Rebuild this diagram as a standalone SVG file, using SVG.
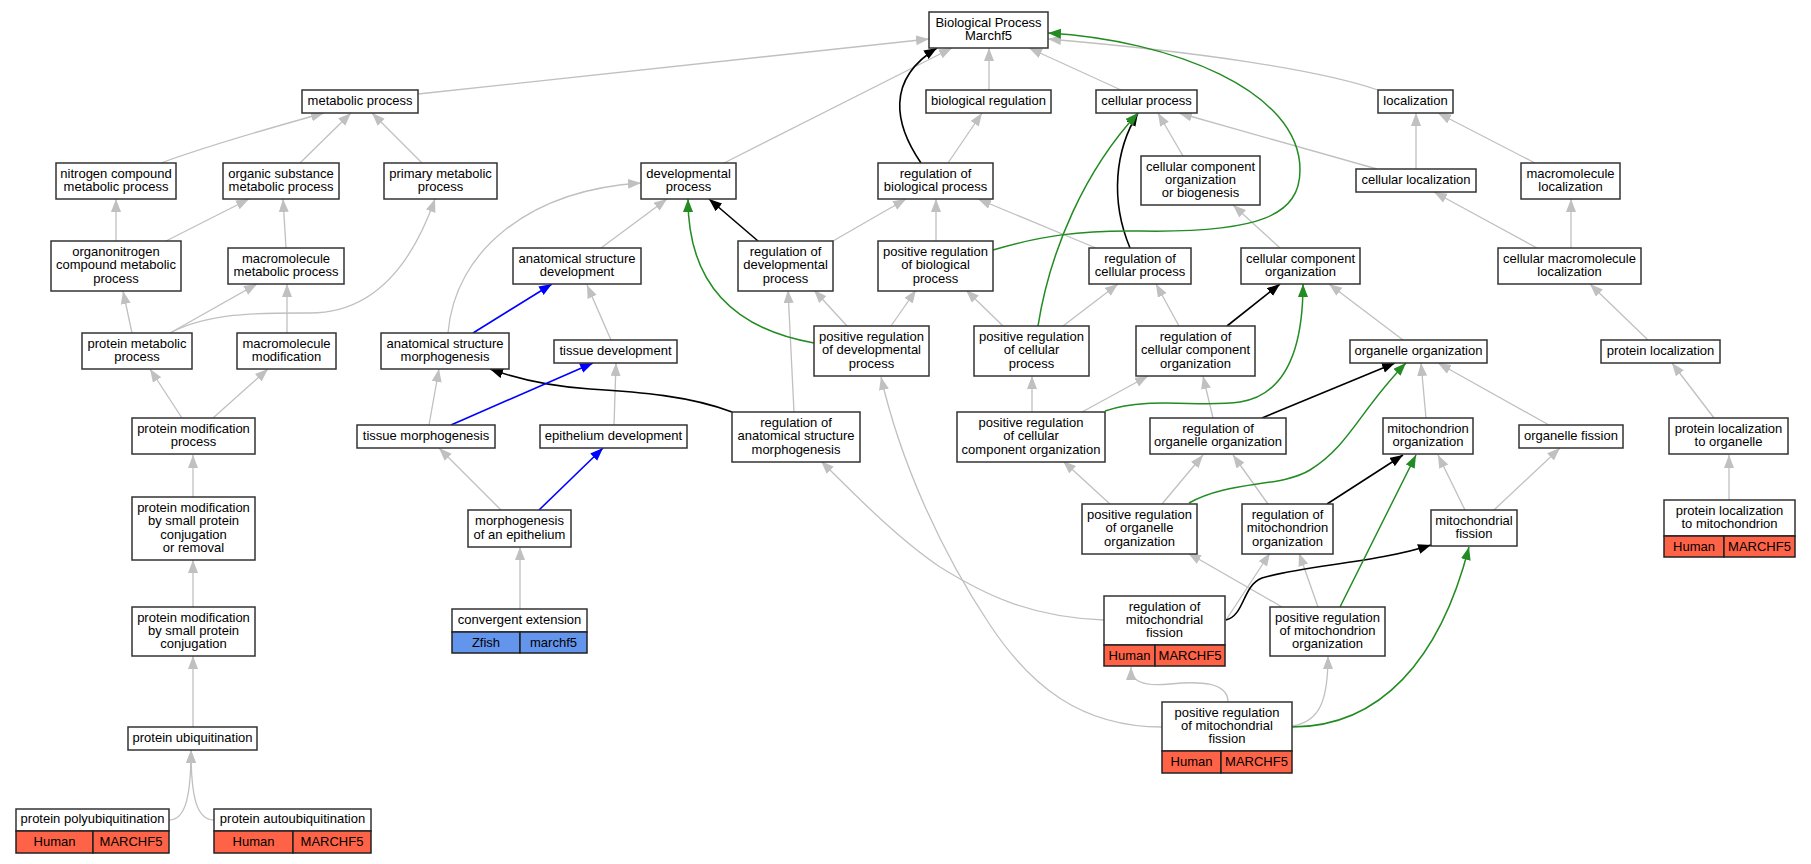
<svg xmlns="http://www.w3.org/2000/svg" width="1811" height="864" viewBox="0 0 1811 864">
<style>
.b{fill:#fff;stroke:#333;stroke-width:1.5}
.h{fill:#ff6347;stroke:#222;stroke-width:1.5}
.z{fill:#6495ed;stroke:#222;stroke-width:1.5}
text{font-family:"Liberation Sans",Arial,Helvetica,sans-serif;font-size:13px;text-anchor:middle;fill:#000}
.eg{fill:none;stroke:#c0c0c0;stroke-width:1.3;marker-end:url(#ag)}
.ek{fill:none;stroke:#000;stroke-width:1.6;marker-end:url(#ak)}
.eu{fill:none;stroke:#0000ff;stroke-width:1.6;marker-end:url(#au)}
.en{fill:none;stroke:#228b22;stroke-width:1.5;marker-end:url(#an)}
</style>
<defs>
<marker id="ag" markerUnits="userSpaceOnUse" markerWidth="14" markerHeight="11" refX="13" refY="5" orient="auto"><path d="M0,0 L13,5 L0,10 z" fill="#c0c0c0"/></marker>
<marker id="ak" markerUnits="userSpaceOnUse" markerWidth="14" markerHeight="11" refX="13" refY="5" orient="auto"><path d="M0,0 L13,5 L0,10 z" fill="#000"/></marker>
<marker id="au" markerUnits="userSpaceOnUse" markerWidth="14" markerHeight="11" refX="13" refY="5" orient="auto"><path d="M0,0 L13,5 L0,10 z" fill="#0000ff"/></marker>
<marker id="an" markerUnits="userSpaceOnUse" markerWidth="14" markerHeight="11" refX="13" refY="5" orient="auto"><path d="M0,0 L13,5 L0,10 z" fill="#228b22"/></marker>
</defs>
<rect width="1811" height="864" fill="#fff"/>
<g id="edges">
<path class="eg" d="M418,94 L929,39"/>
<path class="eg" d="M161,163 C210,145 270,128 324,113"/>
<path class="eg" d="M300,163 L351,113"/>
<path class="eg" d="M422,163 L372,113"/>
<path class="eg" d="M116,241 L116,199"/>
<path class="eg" d="M166,241 L249,199"/>
<path class="eg" d="M286,248 L283,199"/>
<path class="eg" d="M170,333 C210,312 260,313 310,313 C370,313 410,270 435,199"/>
<path class="eg" d="M132,333 L123,291"/>
<path class="eg" d="M170,333 L257,284"/>
<path class="eg" d="M287,333 L287,284"/>
<path class="eg" d="M182,418 L150,369"/>
<path class="eg" d="M213,418 L268,369"/>
<path class="eg" d="M193,497 L193,455"/>
<path class="eg" d="M193,607 L193,560"/>
<path class="eg" d="M193,727 L193,656"/>
<path class="eg" d="M169,820 C186,820 191,795 191,750"/>
<path class="eg" d="M214,820 C196,820 191,795 191,750"/>
<path class="eg" d="M448,333 C455,250 530,190 641,183"/>
<path class="eg" d="M611,340 L587,285"/>
<path class="eg" d="M429,425 L439,369"/>
<path class="eg" d="M614,425 L616,363"/>
<path class="eg" d="M501,510 L439,448"/>
<path class="eg" d="M520,609 L520,547"/>
<path class="eg" d="M724,163 L952,48"/>
<path class="eg" d="M989,90 L989,48"/>
<path class="eg" d="M1121,90 L1029,48"/>
<path class="eg" d="M1378,90 C1320,70 1200,52 1048,39"/>
<path class="eg" d="M1377,169 L1179,113"/>
<path class="eg" d="M1183,156 L1158,113"/>
<path class="eg" d="M948,163 L982,113"/>
<path class="eg" d="M833,241 L906,199"/>
<path class="eg" d="M936,241 L936,199"/>
<path class="eg" d="M1096,248 L978,199"/>
<path class="eg" d="M601,248 L667,199"/>
<path class="eg" d="M847,326 L814,290"/>
<path class="eg" d="M891,326 L916,290"/>
<path class="eg" d="M794,412 L788,290"/>
<path class="eg" d="M1003,326 L966,290"/>
<path class="eg" d="M1063,326 L1118,284"/>
<path class="eg" d="M1179,326 L1156,284"/>
<path class="eg" d="M1032,412 L1032,376"/>
<path class="eg" d="M1082,412 L1148,376"/>
<path class="eg" d="M1213,418 L1203,376"/>
<path class="eg" d="M1110,504 L1063,461"/>
<path class="eg" d="M1162,504 L1203,455"/>
<path class="eg" d="M1403,340 L1329,284"/>
<path class="eg" d="M1280,248 L1233,205"/>
<path class="eg" d="M1426,418 L1421,363"/>
<path class="eg" d="M1549,425 L1438,363"/>
<path class="eg" d="M1465,510 L1438,455"/>
<path class="eg" d="M1494,510 L1560,448"/>
<path class="eg" d="M1268,504 L1233,455"/>
<path class="eg" d="M1648,340 L1590,284"/>
<path class="eg" d="M1571,248 L1571,199"/>
<path class="eg" d="M1537,248 L1434,192"/>
<path class="eg" d="M1535,163 L1438,113"/>
<path class="eg" d="M1416,169 L1416,113"/>
<path class="eg" d="M1714,418 L1672,363"/>
<path class="eg" d="M1729,500 L1729,455"/>
<path class="eg" d="M1226,620 L1270,553"/>
<path class="eg" d="M1282,607 L1188,553"/>
<path class="eg" d="M1318,607 L1299,553"/>
<path class="eg" d="M1104,620 C1030,617 985,595 940,567 C900,540 860,500 821,461"/>
<path class="eg" d="M1228,702 C1228,682 1200,681 1170,684 C1140,687 1131,680 1131,667"/>
<path class="eg" d="M1292,726 C1320,722 1328,700 1328,656"/>
<path class="eg" d="M1162,727 C1080,727 1030,685 990,625 C940,550 900,460 881,377"/>
<path class="ek" d="M921,163 C895,125 885,80 937,48"/>
<path class="ek" d="M758,241 L709,199"/>
<path class="ek" d="M1130,248 C1110,200 1115,150 1138,113"/>
<path class="ek" d="M732,412 C690,396 640,392 590,389 C545,386 515,378 490,369"/>
<path class="ek" d="M1227,326 L1280,284"/>
<path class="ek" d="M1262,418 L1395,363"/>
<path class="ek" d="M1327,504 L1403,455"/>
<path class="ek" d="M1226,620 C1245,615 1242,586 1262,578 C1300,566 1380,562 1431,545"/>
<path class="eu" d="M473,333 L552,284"/>
<path class="eu" d="M451,425 L593,363"/>
<path class="eu" d="M539,510 L603,448"/>
<path class="en" d="M993,250 C1040,236 1080,230 1140,231 C1260,233 1300,215 1300,170 C1300,90 1170,40 1048,33"/>
<path class="en" d="M1038,326 C1050,250 1085,170 1138,113"/>
<path class="en" d="M814,343 C740,330 688,290 688,199"/>
<path class="en" d="M1105,411 C1150,396 1200,408 1240,402 C1290,394 1303,340 1303,284"/>
<path class="en" d="M1189,503 C1230,480 1280,488 1310,470 C1350,445 1360,410 1406,363"/>
<path class="en" d="M1340,607 L1416,455"/>
<path class="en" d="M1292,727 C1380,727 1440,660 1469,547"/>
</g>
<g id="nodes">
<g id="n-bp"><rect class="b" x="929" y="12" width="119" height="36"/><text x="988.5" y="26.7">Biological Process</text><text x="988.5" y="40">Marchf5</text></g>
<g id="n-metabolic"><rect class="b" x="302" y="90" width="116" height="23"/><text x="360" y="104.8">metabolic process</text></g>
<g id="n-bioreg"><rect class="b" x="926" y="90" width="125" height="23"/><text x="988.5" y="104.8">biological regulation</text></g>
<g id="n-cellproc"><rect class="b" x="1096" y="90" width="101" height="23"/><text x="1146.5" y="104.8">cellular process</text></g>
<g id="n-localization"><rect class="b" x="1378" y="90" width="75" height="23"/><text x="1415.5" y="104.8">localization</text></g>
<g id="n-nitrogen"><rect class="b" x="56" y="163" width="120" height="36"/><text x="116" y="177.7">nitrogen compound</text><text x="116" y="191">metabolic process</text></g>
<g id="n-organic"><rect class="b" x="223" y="163" width="116" height="36"/><text x="281" y="177.7">organic substance</text><text x="281" y="191">metabolic process</text></g>
<g id="n-primary"><rect class="b" x="384" y="163" width="113" height="36"/><text x="440.5" y="177.7">primary metabolic</text><text x="440.5" y="191">process</text></g>
<g id="n-devproc"><rect class="b" x="641" y="163" width="95" height="36"/><text x="688.5" y="177.7">developmental</text><text x="688.5" y="191">process</text></g>
<g id="n-regbio"><rect class="b" x="878" y="163" width="115" height="36"/><text x="935.5" y="177.7">regulation of</text><text x="935.5" y="191">biological process</text></g>
<g id="n-ccob"><rect class="b" x="1141" y="156" width="119" height="49"/><text x="1200.5" y="170.5">cellular component</text><text x="1200.5" y="183.8">organization</text><text x="1200.5" y="197.1">or biogenesis</text></g>
<g id="n-cellloc"><rect class="b" x="1356" y="169" width="120" height="23"/><text x="1416" y="183.8">cellular localization</text></g>
<g id="n-macroloc"><rect class="b" x="1521" y="163" width="99" height="36"/><text x="1570.5" y="177.7">macromolecule</text><text x="1570.5" y="191">localization</text></g>
<g id="n-organonitrogen"><rect class="b" x="51" y="241" width="130" height="50"/><text x="116" y="256">organonitrogen</text><text x="116" y="269.3">compound metabolic</text><text x="116" y="282.6">process</text></g>
<g id="n-macrometab"><rect class="b" x="228" y="248" width="116" height="36"/><text x="286" y="262.7">macromolecule</text><text x="286" y="276">metabolic process</text></g>
<g id="n-asdev"><rect class="b" x="513" y="248" width="128" height="36"/><text x="577" y="262.7">anatomical structure</text><text x="577" y="276">development</text></g>
<g id="n-regdev"><rect class="b" x="738" y="241" width="95" height="50"/><text x="785.5" y="256">regulation of</text><text x="785.5" y="269.3">developmental</text><text x="785.5" y="282.6">process</text></g>
<g id="n-posregbio"><rect class="b" x="878" y="241" width="115" height="50"/><text x="935.5" y="256">positive regulation</text><text x="935.5" y="269.3">of biological</text><text x="935.5" y="282.6">process</text></g>
<g id="n-regcell"><rect class="b" x="1089" y="248" width="102" height="36"/><text x="1140" y="262.7">regulation of</text><text x="1140" y="276">cellular process</text></g>
<g id="n-cco"><rect class="b" x="1241" y="248" width="119" height="36"/><text x="1300.5" y="262.7">cellular component</text><text x="1300.5" y="276">organization</text></g>
<g id="n-cellmacroloc"><rect class="b" x="1498" y="248" width="143" height="36"/><text x="1569.5" y="262.7">cellular macromolecule</text><text x="1569.5" y="276">localization</text></g>
<g id="n-protmetab"><rect class="b" x="82" y="333" width="110" height="36"/><text x="137" y="347.7">protein metabolic</text><text x="137" y="361">process</text></g>
<g id="n-macromod"><rect class="b" x="237" y="333" width="99" height="36"/><text x="286.5" y="347.7">macromolecule</text><text x="286.5" y="361">modification</text></g>
<g id="n-asmorph"><rect class="b" x="381" y="333" width="128" height="36"/><text x="445" y="347.7">anatomical structure</text><text x="445" y="361">morphogenesis</text></g>
<g id="n-tissuedev"><rect class="b" x="554" y="340" width="123" height="23"/><text x="615.5" y="354.8">tissue development</text></g>
<g id="n-posregdev"><rect class="b" x="814" y="326" width="115" height="50"/><text x="871.5" y="341">positive regulation</text><text x="871.5" y="354.3">of developmental</text><text x="871.5" y="367.6">process</text></g>
<g id="n-posregcell"><rect class="b" x="974" y="326" width="115" height="50"/><text x="1031.5" y="341">positive regulation</text><text x="1031.5" y="354.3">of cellular</text><text x="1031.5" y="367.6">process</text></g>
<g id="n-regcco"><rect class="b" x="1136" y="326" width="119" height="50"/><text x="1195.5" y="341">regulation of</text><text x="1195.5" y="354.3">cellular component</text><text x="1195.5" y="367.6">organization</text></g>
<g id="n-orgorg"><rect class="b" x="1350" y="340" width="137" height="23"/><text x="1418.5" y="354.8">organelle organization</text></g>
<g id="n-protloc"><rect class="b" x="1601" y="340" width="119" height="23"/><text x="1660.5" y="354.8">protein localization</text></g>
<g id="n-protmod"><rect class="b" x="132" y="418" width="123" height="36"/><text x="193.5" y="432.7">protein modification</text><text x="193.5" y="446">process</text></g>
<g id="n-tissuemorph"><rect class="b" x="357" y="425" width="138" height="23"/><text x="426" y="439.8">tissue morphogenesis</text></g>
<g id="n-epidev"><rect class="b" x="540" y="425" width="147" height="23"/><text x="613.5" y="439.8">epithelium development</text></g>
<g id="n-regasmorph"><rect class="b" x="732" y="412" width="128" height="50"/><text x="796" y="427">regulation of</text><text x="796" y="440.3">anatomical structure</text><text x="796" y="453.6">morphogenesis</text></g>
<g id="n-posregcco"><rect class="b" x="957" y="412" width="148" height="50"/><text x="1031" y="427">positive regulation</text><text x="1031" y="440.3">of cellular</text><text x="1031" y="453.6">component organization</text></g>
<g id="n-regorgorg"><rect class="b" x="1150" y="418" width="136" height="36"/><text x="1218" y="432.7">regulation of</text><text x="1218" y="446">organelle organization</text></g>
<g id="n-mitoorg"><rect class="b" x="1383" y="418" width="90" height="36"/><text x="1428" y="432.7">mitochondrion</text><text x="1428" y="446">organization</text></g>
<g id="n-orgfission"><rect class="b" x="1519" y="425" width="104" height="23"/><text x="1571" y="439.8">organelle fission</text></g>
<g id="n-protlocorg"><rect class="b" x="1669" y="418" width="119" height="36"/><text x="1728.5" y="432.7">protein localization</text><text x="1728.5" y="446">to organelle</text></g>
<g id="n-protmodsmallrem"><rect class="b" x="132" y="497" width="123" height="63"/><text x="193.5" y="511.9">protein modification</text><text x="193.5" y="525.2">by small protein</text><text x="193.5" y="538.5">conjugation</text><text x="193.5" y="551.8">or removal</text></g>
<g id="n-morphepi"><rect class="b" x="468" y="510" width="103" height="37"/><text x="519.5" y="525.2">morphogenesis</text><text x="519.5" y="538.5">of an epithelium</text></g>
<g id="n-posregorgorg"><rect class="b" x="1082" y="504" width="115" height="50"/><text x="1139.5" y="519">positive regulation</text><text x="1139.5" y="532.3">of organelle</text><text x="1139.5" y="545.6">organization</text></g>
<g id="n-regmitoorg"><rect class="b" x="1242" y="504" width="91" height="50"/><text x="1287.5" y="519">regulation of</text><text x="1287.5" y="532.3">mitochondrion</text><text x="1287.5" y="545.6">organization</text></g>
<g id="n-mitofission"><rect class="b" x="1431" y="510" width="86" height="36"/><text x="1474" y="524.7">mitochondrial</text><text x="1474" y="538">fission</text></g>
<g id="n-protlocmito"><rect class="b" x="1664" y="500" width="131" height="36"/><text x="1729.5" y="514.7">protein localization</text><text x="1729.5" y="528">to mitochondrion</text><rect class="h" x="1664" y="536" width="60" height="21"/><rect class="h" x="1724" y="536" width="71" height="21"/><text x="1694" y="550.5">Human</text><text x="1759.5" y="550.5">MARCHF5</text></g>
<g id="n-protmodsmall"><rect class="b" x="132" y="607" width="123" height="49"/><text x="193.5" y="621.5">protein modification</text><text x="193.5" y="634.8">by small protein</text><text x="193.5" y="648.1">conjugation</text></g>
<g id="n-convext"><rect class="b" x="452" y="609" width="135" height="23"/><text x="519.5" y="623.8">convergent extension</text><rect class="z" x="452" y="632" width="68" height="21"/><rect class="z" x="520" y="632" width="67" height="21"/><text x="486" y="646.5">Zfish</text><text x="553.5" y="646.5">marchf5</text></g>
<g id="n-regmitofission"><rect class="b" x="1104" y="596" width="121" height="49"/><text x="1164.5" y="610.5">regulation of</text><text x="1164.5" y="623.8">mitochondrial</text><text x="1164.5" y="637.1">fission</text><rect class="h" x="1104" y="645" width="51" height="21"/><rect class="h" x="1155" y="645" width="70" height="21"/><text x="1129.5" y="659.5">Human</text><text x="1190" y="659.5">MARCHF5</text></g>
<g id="n-posregmitoorg"><rect class="b" x="1270" y="607" width="115" height="49"/><text x="1327.5" y="621.5">positive regulation</text><text x="1327.5" y="634.8">of mitochondrion</text><text x="1327.5" y="648.1">organization</text></g>
<g id="n-protubiq"><rect class="b" x="128" y="727" width="129" height="23"/><text x="192.5" y="741.8">protein ubiquitination</text></g>
<g id="n-posregmitofission"><rect class="b" x="1162" y="702" width="130" height="49"/><text x="1227" y="716.5">positive regulation</text><text x="1227" y="729.8">of mitochondrial</text><text x="1227" y="743.1">fission</text><rect class="h" x="1162" y="751" width="59" height="22"/><rect class="h" x="1221" y="751" width="71" height="22"/><text x="1191.5" y="766">Human</text><text x="1256.5" y="766">MARCHF5</text></g>
<g id="n-polyubiq"><rect class="b" x="16" y="809" width="153" height="22"/><text x="92.5" y="823.3">protein polyubiquitination</text><rect class="h" x="16" y="831" width="77" height="22"/><rect class="h" x="93" y="831" width="76" height="22"/><text x="54.5" y="846">Human</text><text x="131" y="846">MARCHF5</text></g>
<g id="n-autoubiq"><rect class="b" x="214" y="809" width="157" height="22"/><text x="292.5" y="823.3">protein autoubiquitination</text><rect class="h" x="214" y="831" width="79" height="22"/><rect class="h" x="293" y="831" width="78" height="22"/><text x="253.5" y="846">Human</text><text x="332" y="846">MARCHF5</text></g>
</g>
</svg>
